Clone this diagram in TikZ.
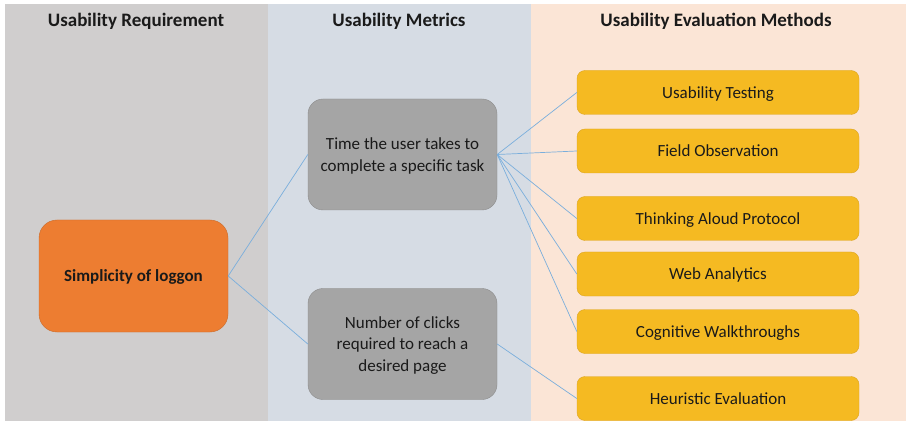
\documentclass[tikz,border=0pt]{standalone}
\usepackage{fontspec}
\setmainfont{Carlito}
\definecolor{panelA}{HTML}{D0CECE}
\definecolor{panelB}{HTML}{D6DCE4}
\definecolor{panelC}{HTML}{FBE5D6}
\definecolor{orangeF}{HTML}{ED7D31}
\definecolor{orangeD}{HTML}{C96A2A}
\definecolor{grayF}{HTML}{A5A5A5}
\definecolor{grayD}{HTML}{8C8C8C}
\definecolor{goldF}{HTML}{F5BA22}
\definecolor{goldD}{HTML}{DDA520}
\definecolor{linkC}{HTML}{7AAEDC}
\definecolor{txt}{HTML}{1A1A1A}
\begin{document}
\begin{tikzpicture}[x=1pt,y=-1pt,
  header/.style={font=\bfseries\fontsize{19}{22}\selectfont, text=txt, anchor=center, text depth=0pt},
  reqbox/.style={draw=orangeD, fill=orangeF, rounded corners=18pt, minimum width=189pt, minimum height=112pt, font=\bfseries\fontsize{17}{21}\selectfont, text=txt, align=center, inner sep=0pt, text depth=0pt},
  metbox/.style={draw=grayD, fill=grayF, rounded corners=15pt, minimum width=189pt, minimum height=111pt, font=\fontsize{17}{21.5}\selectfont, text=txt, align=center, inner sep=0pt, text depth=0pt},
  methbox/.style={draw=goldD, fill=goldF, rounded corners=8pt, minimum width=282pt, minimum height=44pt, font=\fontsize{17}{21}\selectfont, text=txt, align=center, inner sep=0pt, text depth=0pt},
  link/.style={draw=linkC, line width=0.7pt}
]
\useasboundingbox (0,0) rectangle (908,422);
\fill[white] (0,0) rectangle (908,422);
\fill[panelA] (5,4) rectangle (268,421);
\fill[panelB] (268,4) rectangle (531,421);
\fill[panelC] (531,4) rectangle (906,421);

\node[header] (h1) at (136,20) {Usability Requirement};
\node[header] (h2) at (399,20) {Usability Metrics};
\node[header] (h3) at (716,20) {Usability Evaluation Methods};

\node[reqbox] (req) at (133.5,276) {Simplicity of loggon};

\node[metbox] (m1) at (402.5,154.5) {Time the user takes to\\complete a specific task};
\node[metbox] (m2) at (402.5,344) {Number of clicks\\required to reach a\\desired page};

\node[methbox] (e1) at (718,92.5) {Usability Testing};
\node[methbox] (e2) at (718,151) {Field Observation};
\node[methbox] (e3) at (718,218.5) {Thinking Aloud Protocol};
\node[methbox] (e4) at (718,274) {Web Analytics};
\node[methbox] (e5) at (718,331.5) {Cognitive Walkthroughs};
\node[methbox] (e6) at (718,398.5) {Heuristic Evaluation};

\draw[link] (req.east) -- (m1.west);
\draw[link] (req.east) -- (m2.west);
\foreach \e in {e1,e2,e3,e4,e5} \draw[link] (m1.east) -- (\e.west);
\draw[link] (m2.east) -- (e6.west);
\end{tikzpicture}
\end{document}
